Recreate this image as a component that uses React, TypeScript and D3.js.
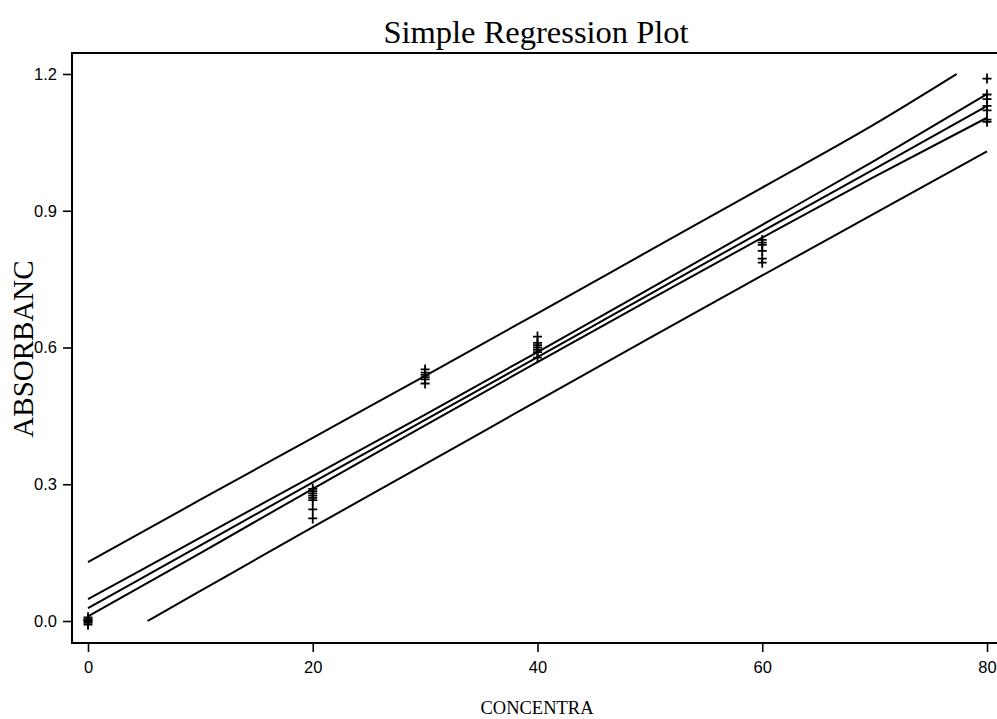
import React, { useEffect, useRef } from 'react';
import * as d3 from 'd3';

// observations: concentration and measured absorbance
const conc0 = [0.0, 0.004, -0.004, 0.008, -0.008, 0.002];
const conc20 = [0.29, 0.285, 0.28, 0.275, 0.27, 0.265, 0.245, 0.225];
const conc30 = [0.552, 0.545, 0.54, 0.535, 0.53, 0.521];
const conc40 = [0.624, 0.61, 0.605, 0.6, 0.595, 0.59, 0.578];
const conc60 = [0.836, 0.83, 0.825, 0.812, 0.795, 0.786];
const conc80 = [1.19, 1.155, 1.145, 1.13, 1.12, 1.1, 1.095];
const concLevels = [0, 20, 30, 40, 60, 80];

// fitted line and bands, read at these concentrations
const gridX = [0, 10, 20, 30, 40, 50, 60, 70, 80];
const fitY = [0.028, 0.166, 0.304, 0.441, 0.579, 0.717, 0.855, 0.992, 1.13];
const confUpper = [0.048, 0.183, 0.318, 0.453, 0.59, 0.729, 0.869, 1.01, 1.156];
const confLower = [0.01, 0.149, 0.29, 0.429, 0.568, 0.705, 0.841, 0.975, 1.104];
const predUpperX = [0, 10, 20, 30, 40, 50, 60, 70, 77.3];
const predUpper = [0.129, 0.266, 0.402, 0.538, 0.675, 0.813, 0.951, 1.09, 1.2];
const predLowerX = [5.3, 10, 20, 30, 40, 50, 60, 70, 80];
const predLower = [0.0, 0.066, 0.206, 0.344, 0.483, 0.621, 0.758, 0.894, 1.03];

const xTicks = [0, 20, 40, 60, 80];
const yTicks = [0, 0.3, 0.6, 0.9, 1.2];

const W = 997;
const H = 719;

export default function App() {
  const ref = useRef<SVGSVGElement>(null);

  useEffect(() => {
    const svg = d3.select(ref.current);
    svg.selectAll('*').remove();

    const x = d3.scaleLinear().domain([0, 80]).range([88, 987]);
    const y = d3.scaleLinear().domain([0, 1.2]).range([621, 74]);
    const frame = { left: 72, top: 53, bottom: 643, right: 1005 };

    // frame
    svg.append('path')
      .attr('d', `M${frame.right},${frame.top}H${frame.left}V${frame.bottom}H${frame.right}`)
      .attr('fill', 'none')
      .attr('stroke', '#000')
      .attr('stroke-width', 2);

    const yAxis = d3.axisLeft(y).tickValues(yTicks).tickFormat(d3.format('.1f')).tickSize(9).tickPadding(6);
    const gy = svg.append('g').attr('transform', `translate(${frame.left},0)`).call(yAxis);
    const xAxis = d3.axisBottom(x).tickValues(xTicks).tickFormat(d3.format('d')).tickSize(9).tickPadding(9);
    const gx = svg.append('g').attr('transform', `translate(0,${frame.bottom})`).call(xAxis);
    [gx, gy].forEach((g) => {
      g.select('.domain').remove();
      g.selectAll('line').attr('stroke', '#000').attr('stroke-width', 1.6);
      g.selectAll('text')
        .attr('fill', '#000')
        .style('font-family', '"Liberation Sans", Arial, sans-serif')
        .style('font-size', '16.5px');
    });

    const line = d3.line<[number, number]>()
      .x((d) => x(d[0]))
      .y((d) => y(d[1]))
      .curve(d3.curveMonotoneX);

    const curves: [number[], number[]][] = [
      [predUpperX, predUpper],
      [gridX, confUpper],
      [gridX, fitY],
      [gridX, confLower],
      [predLowerX, predLower],
    ];
    curves.forEach(([xs, ys]) => {
      svg.append('path')
        .datum(xs.map((v, i) => [v, ys[i]] as [number, number]))
        .attr('d', line)
        .attr('fill', 'none')
        .attr('stroke', '#000')
        .attr('stroke-width', 2);
    });

    const groups = [conc0, conc20, conc30, conc40, conc60, conc80];
    const pts: [number, number][] = [];
    groups.forEach((vals, i) => vals.forEach((v) => pts.push([concLevels[i], v])));
    svg.append('g')
      .selectAll('path')
      .data(pts)
      .enter()
      .append('path')
      .attr('d', (d) => {
        const px = x(d[0]);
        const py = y(d[1]);
        return `M${px - 4.5},${py}H${px + 4.5}M${px},${py - 5}V${py + 5}`;
      })
      .attr('stroke', '#000')
      .attr('stroke-width', 1.8)
      .attr('fill', 'none');

    const serif = '"Liberation Serif", "Times New Roman", serif';
    svg.append('text')
      .attr('x', 536)
      .attr('y', 43)
      .attr('text-anchor', 'middle')
      .style('font-family', serif)
      .style('font-size', '32.5px')
      .text('Simple Regression Plot');

    svg.append('text')
      .attr('x', 537)
      .attr('y', 714)
      .attr('text-anchor', 'middle')
      .style('font-family', serif)
      .style('font-size', '18.5px')
      .text('CONCENTRA');

    svg.append('text')
      .attr('transform', 'translate(33,349) rotate(-90)')
      .attr('text-anchor', 'middle')
      .style('font-family', serif)
      .style('font-size', '29px')
      .text('ABSORBANC');
  }, []);

  return (
    <svg
      ref={ref}
      width={W}
      height={H}
      style={{ position: 'absolute', left: 0, top: 0, background: '#fff' }}
    />
  );
}
